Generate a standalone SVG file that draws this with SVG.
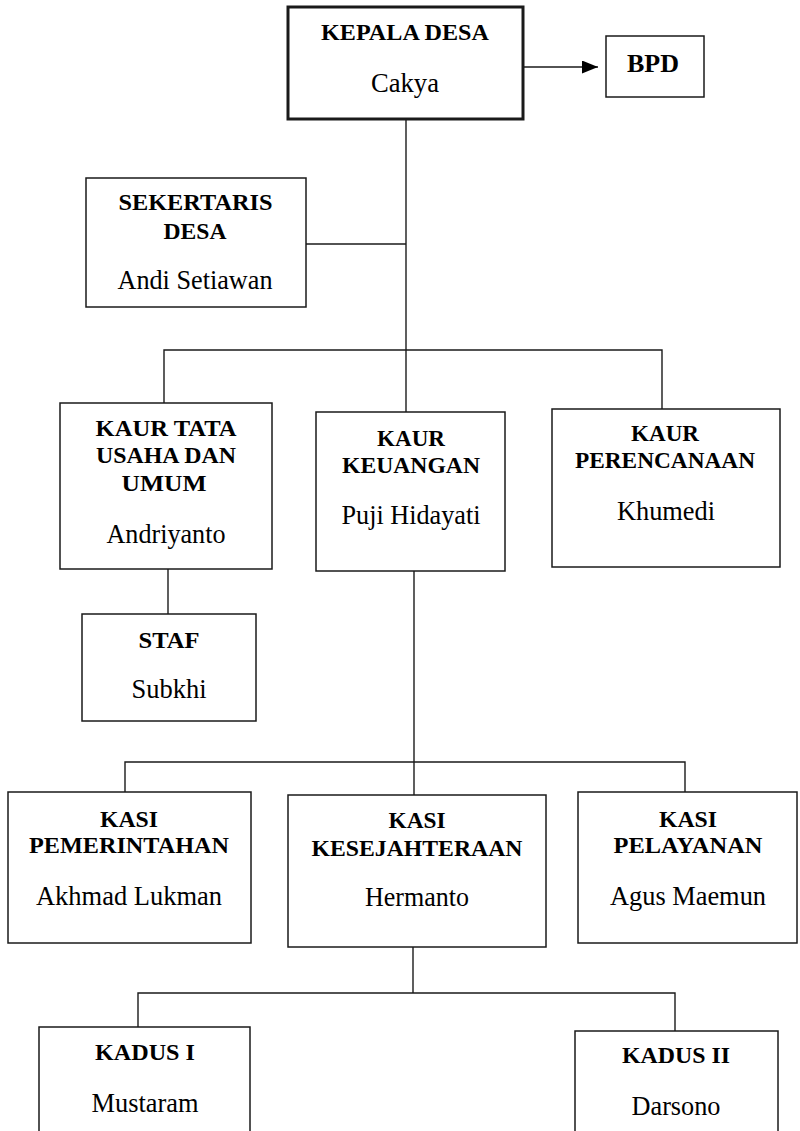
<svg xmlns="http://www.w3.org/2000/svg" width="800" height="1131" viewBox="0 0 800 1131">
<defs>
<style>
.box{fill:#fff;stroke:#1a1a1a;stroke-width:1.5}
.main{stroke-width:3}
.b{font-family:"Liberation Serif","Times New Roman",serif;font-weight:bold;font-size:23.5px;fill:#000;text-anchor:middle}
.n{font-family:"Liberation Serif","Times New Roman",serif;font-size:26.5px;fill:#000;text-anchor:middle}
.c{fill:none;stroke:#1a1a1a;stroke-width:1.4}
</style>
<marker id="ah" markerUnits="userSpaceOnUse" markerWidth="17" markerHeight="14" refX="16" refY="6.5" orient="auto">
<path d="M0,0 L16,6.5 L0,13 z" fill="#000"/>
</marker>
</defs>
<rect width="800" height="1131" fill="#fff"/>
<g id="connectors">
<path class="c" d="M523,67 L598,67" marker-end="url(#ah)"/>
<path class="c" d="M406,119 L406,412"/>
<path class="c" d="M306,244 L406,244"/>
<path class="c" d="M164,403 L164,350 L662,350 L662,409"/>
<path class="c" d="M168,569 L168,614"/>
<path class="c" d="M414,571 L414,795"/>
<path class="c" d="M125,792 L125,762 L685,762 L685,792"/>
<path class="c" d="M413,947 L413,993"/>
<path class="c" d="M138,1027 L138,993 L675,993 L675,1031"/>
</g>
<g id="kepala">
<rect class="box main" x="288" y="7" width="235" height="112"/>
<text class="b" x="405" y="40" textLength="168" lengthAdjust="spacingAndGlyphs">KEPALA DESA</text>
<text class="n" x="405" y="92" textLength="68" lengthAdjust="spacingAndGlyphs">Cakya</text>
</g>
<g id="bpd">
<rect class="box" x="606" y="36" width="98" height="61"/>
<text class="b" x="653" y="72" style="font-size:26px" textLength="52" lengthAdjust="spacingAndGlyphs">BPD</text>
</g>
<g id="sekertaris">
<rect class="box" x="86" y="178" width="220" height="129"/>
<text class="b" x="195.5" y="210" textLength="154" lengthAdjust="spacingAndGlyphs">SEKERTARIS</text>
<text class="b" x="195" y="239" textLength="63" lengthAdjust="spacingAndGlyphs">DESA</text>
<text class="n" x="195" y="289" textLength="155" lengthAdjust="spacingAndGlyphs">Andi Setiawan</text>
</g>
<g id="kaur-tata-usaha">
<rect class="box" x="60" y="403" width="212" height="166"/>
<text class="b" x="166" y="436" textLength="141" lengthAdjust="spacingAndGlyphs">KAUR TATA</text>
<text class="b" x="166" y="463" textLength="140" lengthAdjust="spacingAndGlyphs">USAHA DAN</text>
<text class="b" x="164" y="491" textLength="85" lengthAdjust="spacingAndGlyphs">UMUM</text>
<text class="n" x="166" y="543" textLength="119" lengthAdjust="spacingAndGlyphs">Andriyanto</text>
</g>
<g id="kaur-keuangan">
<rect class="box" x="316" y="412" width="189" height="159"/>
<text class="b" x="411" y="446" textLength="68" lengthAdjust="spacingAndGlyphs">KAUR</text>
<text class="b" x="411" y="473" textLength="138" lengthAdjust="spacingAndGlyphs">KEUANGAN</text>
<text class="n" x="411" y="524" textLength="139" lengthAdjust="spacingAndGlyphs">Puji Hidayati</text>
</g>
<g id="kaur-perencanaan">
<rect class="box" x="552" y="409" width="228" height="158"/>
<text class="b" x="665" y="441" textLength="68" lengthAdjust="spacingAndGlyphs">KAUR</text>
<text class="b" x="665" y="468" textLength="180" lengthAdjust="spacingAndGlyphs">PERENCANAAN</text>
<text class="n" x="666" y="520" textLength="98" lengthAdjust="spacingAndGlyphs">Khumedi</text>
</g>
<g id="staf">
<rect class="box" x="82" y="614" width="174" height="107"/>
<text class="b" x="169" y="648" textLength="61" lengthAdjust="spacingAndGlyphs">STAF</text>
<text class="n" x="169" y="698" textLength="75" lengthAdjust="spacingAndGlyphs">Subkhi</text>
</g>
<g id="kasi-pemerintahan">
<rect class="box" x="8" y="792" width="243" height="151"/>
<text class="b" x="129" y="827" textLength="58" lengthAdjust="spacingAndGlyphs">KASI</text>
<text class="b" x="129" y="853" textLength="200" lengthAdjust="spacingAndGlyphs">PEMERINTAHAN</text>
<text class="n" x="129" y="905" textLength="186" lengthAdjust="spacingAndGlyphs">Akhmad Lukman</text>
</g>
<g id="kasi-kesejahteraan">
<rect class="box" x="288" y="795" width="258" height="152"/>
<text class="b" x="417" y="828" textLength="57" lengthAdjust="spacingAndGlyphs">KASI</text>
<text class="b" x="417" y="856" textLength="211" lengthAdjust="spacingAndGlyphs">KESEJAHTERAAN</text>
<text class="n" x="417" y="906" textLength="104" lengthAdjust="spacingAndGlyphs">Hermanto</text>
</g>
<g id="kasi-pelayanan">
<rect class="box" x="578" y="792" width="219" height="151"/>
<text class="b" x="688" y="827" textLength="58" lengthAdjust="spacingAndGlyphs">KASI</text>
<text class="b" x="688" y="853" textLength="149" lengthAdjust="spacingAndGlyphs">PELAYANAN</text>
<text class="n" x="688" y="905" textLength="156" lengthAdjust="spacingAndGlyphs">Agus Maemun</text>
</g>
<g id="kadus-1">
<rect class="box" x="39" y="1027" width="211" height="130"/>
<text class="b" x="145" y="1060" textLength="100" lengthAdjust="spacingAndGlyphs">KADUS I</text>
<text class="n" x="145" y="1112" textLength="107" lengthAdjust="spacingAndGlyphs">Mustaram</text>
</g>
<g id="kadus-2">
<rect class="box" x="575" y="1031" width="203" height="130"/>
<text class="b" x="676" y="1063" textLength="108" lengthAdjust="spacingAndGlyphs">KADUS II</text>
<text class="n" x="676" y="1115" textLength="89" lengthAdjust="spacingAndGlyphs">Darsono</text>
</g>
</svg>
